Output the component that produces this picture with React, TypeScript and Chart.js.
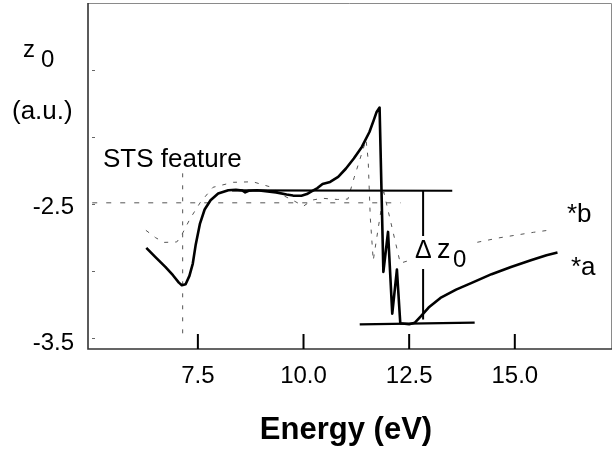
import React, { useEffect, useRef } from "react";
import { Chart, registerables } from "chart.js";

Chart.register(...registerables);

// Curve *a (solid)
const energyA = [6.28, 6.49, 6.73, 6.91, 7.05, 7.12, 7.21, 7.30, 7.38, 7.45, 7.55, 7.66, 7.80, 7.98, 8.22, 8.40, 8.55, 8.62, 8.70, 8.90, 9.10, 9.35, 9.60, 9.75, 9.95, 10.08, 10.20, 10.33, 10.45, 10.63, 10.82, 11.00, 11.19, 11.38, 11.56, 11.66, 11.73, 11.80, 11.89, 12.00, 12.10, 12.21, 12.29, 12.50, 12.63, 12.78, 12.96, 13.24, 13.61, 13.98, 14.45, 14.91, 15.38, 15.75, 16.01];
const zA = [-2.826, -2.893, -2.968, -3.030, -3.085, -3.104, -3.097, -3.035, -2.943, -2.80, -2.645, -2.540, -2.471, -2.421, -2.396, -2.392, -2.398, -2.412, -2.400, -2.396, -2.403, -2.412, -2.428, -2.436, -2.437, -2.425, -2.403, -2.38, -2.35, -2.334, -2.297, -2.236, -2.160, -2.073, -1.962, -1.875, -1.812, -1.780, -3.005, -2.707, -3.316, -2.988, -3.388, -3.395, -3.385, -3.335, -3.271, -3.199, -3.137, -3.087, -3.022, -2.968, -2.918, -2.881, -2.861];

// Curve *b (dashed)
const energyB = [6.27, 6.50, 6.70, 7.00, 7.10, 7.32, 7.56, 7.86, 8.34, 8.80, 9.20, 9.55, 9.80, 10.00, 10.20, 10.44, 10.80, 11.05, 11.20, 11.39, 11.48, 11.53, 11.58, 11.65, 11.90, 12.29, 12.50, 13.07, 14.02, 14.65, 15.44, 15.90];
const zB = [-2.695, -2.75, -2.785, -2.782, -2.74, -2.606, -2.486, -2.374, -2.337, -2.333, -2.37, -2.44, -2.48, -2.515, -2.47, -2.456, -2.465, -2.462, -2.30, -2.11, -2.02, -2.17, -2.60, -2.92, -2.41, -2.94, -2.92, -2.86, -2.79, -2.75, -2.71, -2.69];

// Guide lines
const baselineE = [5.0, 12.3];
const baselineZ = [-2.49, -2.49];
const stsE = [7.14, 7.14];
const stsZ = [-2.27, -3.47];
const upperE = [8.31, 13.52];
const upperZ = [-2.397, -2.4];
const lowerE = [11.33, 14.05];
const lowerZ = [-3.397, -3.383];
const deltaE = [12.83, 12.83];
const deltaZ = [-2.4, -3.36];

// Axes
const xMin = 4.9;
const xMax = 17.3;
const yMin = -3.58;
const yMax = -1.0;
const xTicks = [7.5, 10, 12.5, 15];
const xTickLabels = ["7.5", "10.0", "12.5", "15.0"];
const yTicks = [-3.5, -3.0, -2.5, -2.0, -1.5];
const yLabelValues = [-2.5, -3.5];
const yLabelTexts = ["-2.5", "-3.5"];

const FAMILY = "'Liberation Sans', Arial, Helvetica, sans-serif";

function pts(xs: number[], ys: number[]) {
  return xs.map((x, i) => ({ x, y: ys[i] }));
}

function drawText(
  ctx: CanvasRenderingContext2D,
  text: string,
  x: number,
  y: number,
  font: string,
  align: CanvasTextAlign,
  baseline: CanvasTextBaseline
) {
  ctx.save();
  ctx.font = font;
  ctx.textBaseline = baseline;
  ctx.textAlign = align;
  ctx.fillStyle = "#000";
  ctx.fillText(text, x, y);
  ctx.restore();
}

const decor = {
  id: "decor",
  afterDatasetsDraw(chart: any) {
    const ctx: CanvasRenderingContext2D = chart.ctx;
    const xs = chart.scales.x;
    const ys = chart.scales.y;
    const a = chart.chartArea;

    // white box behind the delta label
    ctx.save();
    ctx.fillStyle = "#fff";
    ctx.fillRect(413, 236, 58, 33);
    ctx.restore();

    // frame
    ctx.save();
    ctx.strokeStyle = "#8a8a8a";
    ctx.lineWidth = 1;
    ctx.beginPath();
    ctx.moveTo(a.left, a.top + 0.5);
    ctx.lineTo(a.right - 0.5, a.top + 0.5);
    ctx.lineTo(a.right - 0.5, a.bottom);
    ctx.stroke();
    ctx.strokeStyle = "#333";
    ctx.lineWidth = 1.6;
    ctx.beginPath();
    ctx.moveTo(a.left, a.top);
    ctx.lineTo(a.left, a.bottom);
    ctx.lineTo(a.right, a.bottom);
    ctx.stroke();

    // x ticks (inward, bold)
    ctx.strokeStyle = "#000";
    ctx.lineWidth = 2;
    xTicks.forEach((v) => {
      const px = xs.getPixelForValue(v);
      ctx.beginPath();
      ctx.moveTo(px, a.bottom);
      ctx.lineTo(px, a.bottom - 15);
      ctx.stroke();
    });
    // y ticks (tiny inward dashes)
    ctx.strokeStyle = "#666";
    ctx.lineWidth = 1;
    yTicks.forEach((v) => {
      const py = Math.round(ys.getPixelForValue(v)) + 0.5;
      ctx.beginPath();
      ctx.moveTo(a.left + 4, py);
      ctx.lineTo(a.left + 7, py);
      ctx.stroke();
    });
    ctx.restore();

    // tick labels
    const tickFont = `24px ${FAMILY}`;
    xTicks.forEach((v, i) => {
      drawText(ctx, xTickLabels[i], xs.getPixelForValue(v), 376, tickFont, "center", "middle");
    });
    yLabelValues.forEach((v, i) => {
      const py = ys.getPixelForValue(v) + (v < -3 ? 5 : 3);
      drawText(ctx, yLabelTexts[i], 74, py, tickFont, "right", "middle");
    });

    // axis titles
    drawText(ctx, "Energy (eV)", 346, 439, `bold 31px ${FAMILY}`, "center", "alphabetic");
    drawText(ctx, "z", 23, 57, `24px ${FAMILY}`, "left", "alphabetic");
    drawText(ctx, "0", 41, 67, `24px ${FAMILY}`, "left", "alphabetic");
    drawText(ctx, "(a.u.)", 12, 119, `26px ${FAMILY}`, "left", "alphabetic");

    // annotations
    drawText(ctx, "STS feature", 103, 167, `26px ${FAMILY}`, "left", "alphabetic");
    drawText(ctx, "\u0394", 415, 258, `25px ${FAMILY}`, "left", "alphabetic");
    drawText(ctx, "z", 437, 258, `27px ${FAMILY}`, "left", "alphabetic");
    drawText(ctx, "0", 453, 267, `24px ${FAMILY}`, "left", "alphabetic");
    drawText(ctx, "*b", 567, 222, `26px ${FAMILY}`, "left", "alphabetic");
    drawText(ctx, "*a", 571, 275, `26px ${FAMILY}`, "left", "alphabetic");
  },
};

export default function App() {
  const ref = useRef<HTMLCanvasElement | null>(null);
  useEffect(() => {
    if (!ref.current) return;
    const thin = { borderColor: "#555", borderWidth: 1, pointRadius: 0, fill: false, tension: 0 };
    const solid = { borderColor: "#000", borderWidth: 2, pointRadius: 0, fill: false, tension: 0 };
    const chart = new Chart(ref.current, {
      type: "line",
      data: {
        datasets: [
          {
            label: "*a",
            data: pts(energyA, zA),
            borderColor: "#000",
            borderWidth: 2.6,
            pointRadius: 0,
            fill: false,
            tension: 0,
            borderJoinStyle: "round",
          } as any,
          { label: "upper", data: pts(upperE, upperZ), ...solid, borderWidth: 2.2 },
          { label: "lower", data: pts(lowerE, lowerZ), ...solid, borderWidth: 2.2 },
          { label: "delta", data: pts(deltaE, deltaZ), ...solid },
          { label: "*b", data: pts(energyB, zB), ...thin, borderDash: [4, 7] },
          { label: "baseline", data: pts(baselineE, baselineZ), ...thin, borderDash: [5, 9] },
          { label: "sts", data: pts(stsE, stsZ), ...thin, borderDash: [4, 8] },
        ],
      },
      options: {
        responsive: false,
        animation: false,
        layout: { padding: { top: 3, right: 2, left: 0, bottom: 0 } },
        plugins: { legend: { display: false }, tooltip: { enabled: false } },
        scales: {
          x: {
            type: "linear",
            min: xMin,
            max: xMax,
            ticks: { display: false },
            grid: { display: false },
            border: { display: false },
            afterFit: (s: any) => {
              s.height = 102;
            },
          },
          y: {
            type: "linear",
            min: yMin,
            max: yMax,
            ticks: { display: false },
            grid: { display: false },
            border: { display: false },
            afterFit: (s: any) => {
              s.width = 88;
            },
          },
        },
      } as any,
      plugins: [decor],
    });
    return () => chart.destroy();
  }, []);
  return (
    <div style={{ position: "absolute", left: 0, top: 0, width: 614, height: 451, background: "#fff" }}>
      <canvas ref={ref} width={614} height={451} />
    </div>
  );
}
